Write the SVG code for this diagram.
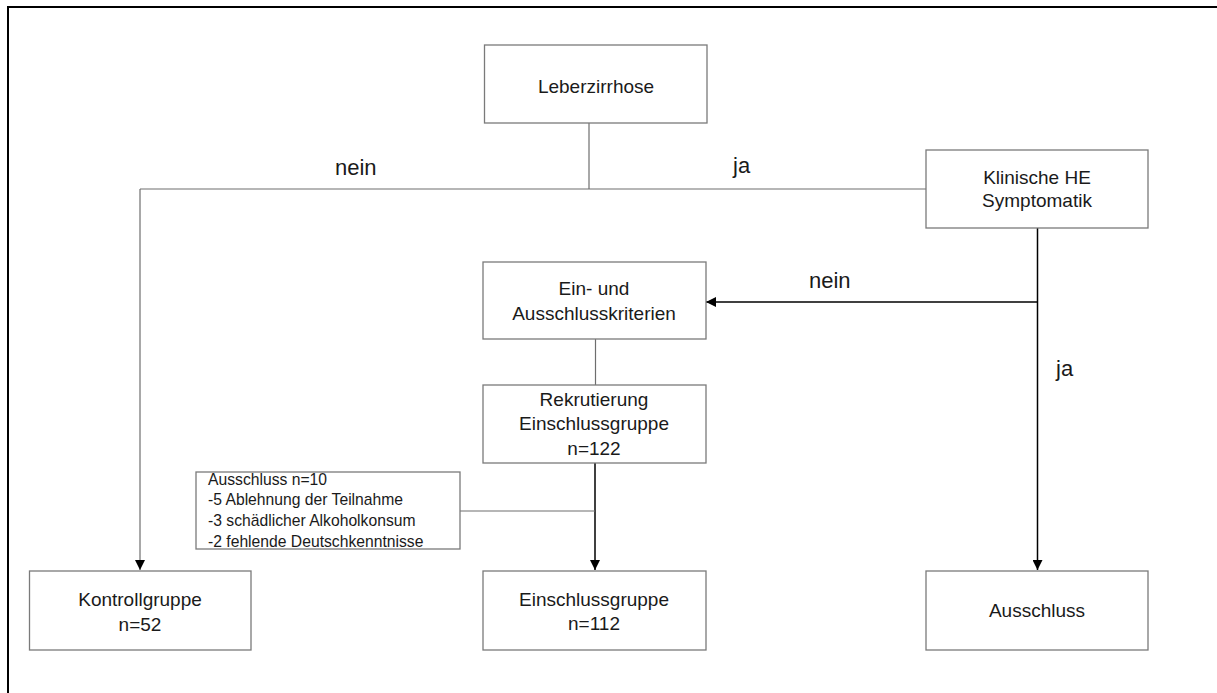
<svg xmlns="http://www.w3.org/2000/svg" width="1217" height="693" viewBox="0 0 1217 693">
<defs>
<style>
.box{fill:#fff;stroke:#7a7a7a;stroke-width:1.3}
.t{font-family:"Liberation Sans",Arial,sans-serif;font-size:19px;fill:#1a1a1a;text-anchor:middle}
.lab{font-family:"Liberation Sans",Arial,sans-serif;font-size:22px;fill:#1a1a1a}
.s{font-family:"Liberation Sans",Arial,sans-serif;font-size:15.7px;fill:#1a1a1a}
.gl{stroke:#6e6e6e;stroke-width:1.2;fill:none}
.bl{stroke:#000;stroke-width:1.5;fill:none}
</style>
<marker id="ah" viewBox="0 0 10 10" refX="10" refY="5" markerWidth="10" markerHeight="10" markerUnits="userSpaceOnUse" orient="auto">
<path d="M0,0 L10,5 L0,10 z" fill="#000"/>
</marker>
</defs>
<rect x="0" y="0" width="1217" height="693" fill="#fff"/>
<rect x="8" y="7" width="1215" height="700" fill="none" stroke="#000" stroke-width="2"/>

<g id="connectors">
<line class="gl" x1="589" y1="123" x2="589" y2="189"/>
<line class="gl" x1="140" y1="189" x2="926" y2="189"/>
<line class="gl" x1="140" y1="189" x2="140" y2="570" marker-end="url(#ah)"/>
<line class="bl" x1="1037.5" y1="228" x2="1037.5" y2="570" stroke-width="2" marker-end="url(#ah)"/>
<line class="bl" x1="1037.5" y1="302" x2="706" y2="302" marker-end="url(#ah)"/>
<line class="gl" x1="595.5" y1="339" x2="595.5" y2="385"/>
<line class="bl" x1="595" y1="463" x2="595" y2="570" marker-end="url(#ah)"/>
<line class="gl" x1="460" y1="511" x2="595" y2="511"/>
<text class="lab" x="335" y="175">nein</text>
<text class="lab" x="733" y="173">ja</text>
<text class="lab" x="809" y="288">nein</text>
<text class="lab" x="1056" y="376">ja</text>
</g>

<g id="leberzirrhose">
<rect class="box" x="484.5" y="45" width="222.5" height="78"/>
<text class="t" x="596" y="93">Leberzirrhose</text>
</g>

<g id="klinische">
<rect class="box" x="926" y="150" width="222" height="78"/>
<text class="t" x="1037" y="184">Klinische HE</text>
<text class="t" x="1037" y="207">Symptomatik</text>
</g>

<g id="kriterien">
<rect class="box" x="483" y="262" width="223" height="77"/>
<text class="t" x="594" y="295">Ein- und</text>
<text class="t" x="594" y="320">Ausschlusskriterien</text>
</g>

<g id="rekrutierung">
<rect class="box" x="483" y="385" width="223" height="78"/>
<text class="t" x="594" y="406">Rekrutierung</text>
<text class="t" x="594" y="430">Einschlussgruppe</text>
<text class="t" x="594" y="455">n=122</text>
</g>

<g id="ausschluss-n10">
<rect class="box" x="196" y="472" width="264" height="77"/>
<text class="s" x="208" y="485">Ausschluss n=10</text>
<text class="s" x="208" y="505">-5 Ablehnung der Teilnahme</text>
<text class="s" x="208" y="526">-3 schädlicher Alkoholkonsum</text>
<text class="s" x="208" y="547">-2 fehlende Deutschkenntnisse</text>
</g>

<g id="kontrollgruppe">
<rect class="box" x="29.5" y="571" width="221.5" height="79"/>
<text class="t" x="140" y="606">Kontrollgruppe</text>
<text class="t" x="140" y="631">n=52</text>
</g>

<g id="einschlussgruppe">
<rect class="box" x="483" y="571" width="223" height="79"/>
<text class="t" x="594" y="606">Einschlussgruppe</text>
<text class="t" x="594" y="630">n=112</text>
</g>

<g id="ausschluss">
<rect class="box" x="926" y="571" width="222" height="79"/>
<text class="t" x="1037" y="617">Ausschluss</text>
</g>
</svg>
